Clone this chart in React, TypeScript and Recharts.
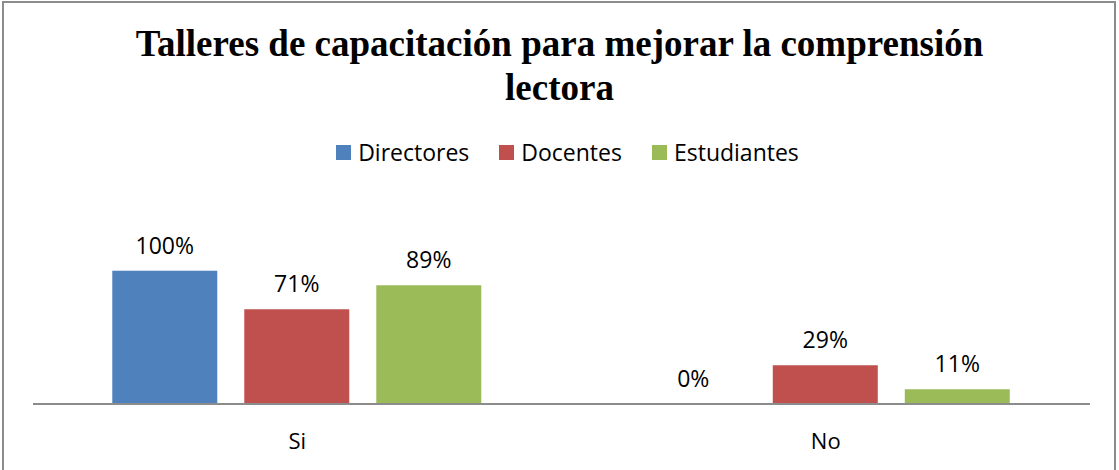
import { BarChart, Bar, XAxis, YAxis, LabelList } from "recharts";

const categories = ["Si", "No"];
const directoresValues = [100, 0];
const docentesValues = [71, 29];
const estudiantesValues = [89, 11];

const series = [
  { key: "Directores", values: directoresValues, color: "#4F81BD" },
  { key: "Docentes", values: docentesValues, color: "#C0504D" },
  { key: "Estudiantes", values: estudiantesValues, color: "#9BBB59" },
];

const data = categories.map((name, i) => {
  const row: Record<string, string | number> = { name };
  series.forEach((s) => {
    row[s.key] = s.values[i];
  });
  return row;
});

const labelFont = "'Open Sans', sans-serif";

function CategoryTick({ x, y, payload }: any) {
  return (
    <text x={x} y={y + 37} textAnchor="middle" fontFamily={labelFont} fontSize={22} fill="#000">
      {payload.value}
    </text>
  );
}

function LegendRow() {
  return (
    <div
      style={{
        position: "absolute",
        top: 137,
        left: 8,
        width: 1119,
        display: "flex",
        justifyContent: "center",
        gap: 30,
        fontFamily: labelFont,
        fontSize: 23,
        lineHeight: "30px",
      }}
    >
      {series.map((s) => (
        <div key={s.key} style={{ display: "flex", alignItems: "center", gap: 7 }}>
          <span style={{ width: 15, height: 15, background: s.color, display: "inline-block" }} />
          <span style={{ color: "#000" }}>{s.key}</span>
        </div>
      ))}
    </div>
  );
}

export default function App() {
  return (
    <div style={{ position: "fixed", left: 0, top: 0, width: 1119, height: 470, background: "#fff", overflow: "hidden" }}>
      <div
        style={{
          position: "absolute",
          left: 2,
          top: 1,
          width: 1114,
          height: 480,
          border: "2px solid #8c8c8c",
          boxSizing: "border-box",
        }}
      />
      <div
        style={{
          position: "absolute",
          left: 0,
          top: 22,
          width: 1119,
          textAlign: "center",
          fontFamily: "'Liberation Serif', 'Times New Roman', serif",
          fontWeight: "bold",
          fontSize: 37,
          lineHeight: "44px",
          color: "#000",
        }}
      >
        Talleres de capacitación para mejorar la comprensión
        <br />
        lectora
      </div>
      <LegendRow />
      <div style={{ position: "absolute", left: 0, top: 0 }}>
        <BarChart
          width={1119}
          height={470}
          data={data}
          margin={{ top: 244, right: 29, left: 33, bottom: 36 }}
          barCategoryGap="15%"
          barGap={27}
        >
          <XAxis
            dataKey="name"
            axisLine={{ stroke: "#8c8c8c", strokeWidth: 2 }}
            tickLine={false}
            tick={<CategoryTick />}
            height={30}
          />
          <YAxis hide domain={[0, 120]} />
          {series.map((s) => (
            <Bar key={s.key} dataKey={s.key} fill={s.color} minPointSize={0.01} isAnimationActive={false}>
              <LabelList
                dataKey={s.key}
                position="top"
                offset={17}
                formatter={(v: any) => `${v}%`}
                style={{ fontFamily: labelFont, fontSize: 23, fill: "#000" }}
              />
            </Bar>
          ))}
        </BarChart>
      </div>
    </div>
  );
}
